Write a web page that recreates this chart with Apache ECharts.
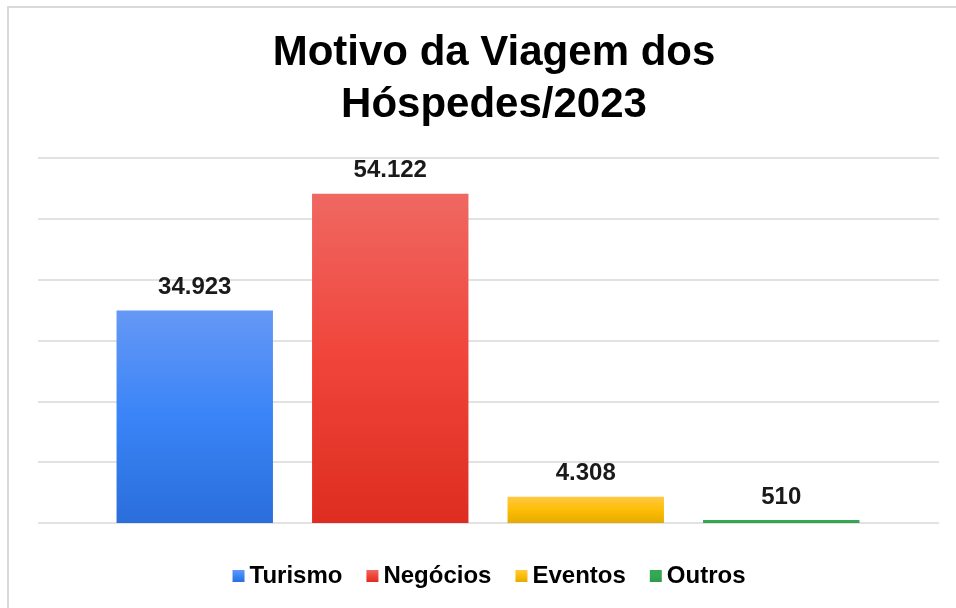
<!DOCTYPE html>
<html>
<head>
<meta charset="utf-8">
<script src="https://cdn.jsdelivr.net/npm/echarts@6/dist/echarts.min.js"></script>
<style>
  html, body { margin: 0; padding: 0; background: #fff; overflow: hidden; }
  #chart { width: 978px; height: 608px; }
</style>
</head>
<body>
<div id="chart"></div>
<script>
// dados do gráfico
var categorias = ['Turismo', 'Negócios', 'Eventos', 'Outros'];
var valores = [34923, 54122, 4308, 510];
var cores = [
    ['#6598f5', '#3a84f7', '#2a6edb'],
    ['#ef6862', '#f0443a', '#de2d20'],
    ['#ffc942', '#fdbd06', '#e6ab00'],
    ['#34a853', '#34a853', '#2f9a4b']
];
var eixoY = { min: 0, max: 60000, intervalo: 10000 };

function formatar(v) {
    return String(v).replace(/\B(?=(\d{3})+(?!\d))/g, '.');
}

var chart = echarts.init(document.getElementById('chart'));

var series = categorias.map(function (nome, i) {
    var dados = categorias.map(function (c, j) { return j === i ? valores[i] : '-'; });
    return {
        name: nome,
        type: 'bar',
        xAxisIndex: 0,
        yAxisIndex: 0,
        barWidth: '80%',
        barGap: '-100%',
        data: dados,
        itemStyle: {
            color: new echarts.graphic.LinearGradient(0, 0, 0, 1, [
                { offset: 0, color: cores[i][0] },
                { offset: 0.5, color: cores[i][1] },
                { offset: 1, color: cores[i][2] }
            ])
        },
        label: {
            show: true,
            position: 'top',
            distance: 11,
            color: '#1a1a1a',
            fontFamily: 'Liberation Sans, Arial, sans-serif',
            fontWeight: 'bold',
            fontSize: 24,
            formatter: function (p) { return formatar(p.value); }
        }
    };
});

var option = {
    animation: false,
    color: cores.map(function (c) { return c[1]; }),
    title: {
        text: 'Motivo da Viagem dos\nHóspedes/2023',
        left: 489,
        top: 22,
        textAlign: 'center',
        textStyle: {
            fontFamily: 'Liberation Sans, Arial, sans-serif',
            fontWeight: 'bold',
            fontSize: 42,
            lineHeight: 52,
            color: '#000'
        }
    },
    legend: {
        data: categorias,
        left: 'center',
        top: 559,
        icon: 'rect',
        itemWidth: 12,
        itemHeight: 12,
        itemGap: 24,
        textStyle: {
            fontFamily: 'Liberation Sans, Arial, sans-serif',
            fontWeight: 'bold',
            fontSize: 24,
            color: '#000'
        }
    },
    graphic: [{
        type: 'rect',
        shape: { x: 8, y: 7, width: 1000, height: 700 },
        style: { fill: 'none', stroke: '#d9d9d9', lineWidth: 2 },
        silent: true
    }],
    grid: [
        { left: 97, right: 99, top: 158, bottom: 85 },
        { left: 38, right: 39, top: 158, bottom: 85 }
    ],
    xAxis: [
        {
            gridIndex: 0,
            type: 'category',
            data: categorias,
            axisLine: { show: false },
            axisTick: { show: false },
            axisLabel: { show: false }
        },
        {
            gridIndex: 1,
            type: 'category',
            data: categorias,
            show: false
        }
    ],
    yAxis: [
        {
            gridIndex: 0,
            type: 'value',
            min: eixoY.min,
            max: eixoY.max,
            interval: eixoY.intervalo,
            axisLabel: { show: false },
            splitLine: { show: false }
        },
        {
            gridIndex: 1,
            type: 'value',
            min: eixoY.min,
            max: eixoY.max,
            interval: eixoY.intervalo,
            axisLabel: { show: false },
            axisLine: { show: false },
            axisTick: { show: false },
            splitLine: { show: true, lineStyle: { color: '#d9d9d9', width: 1.5 } }
        }
    ],
    series: series
};

chart.setOption(option);
</script>
</body>
</html>
